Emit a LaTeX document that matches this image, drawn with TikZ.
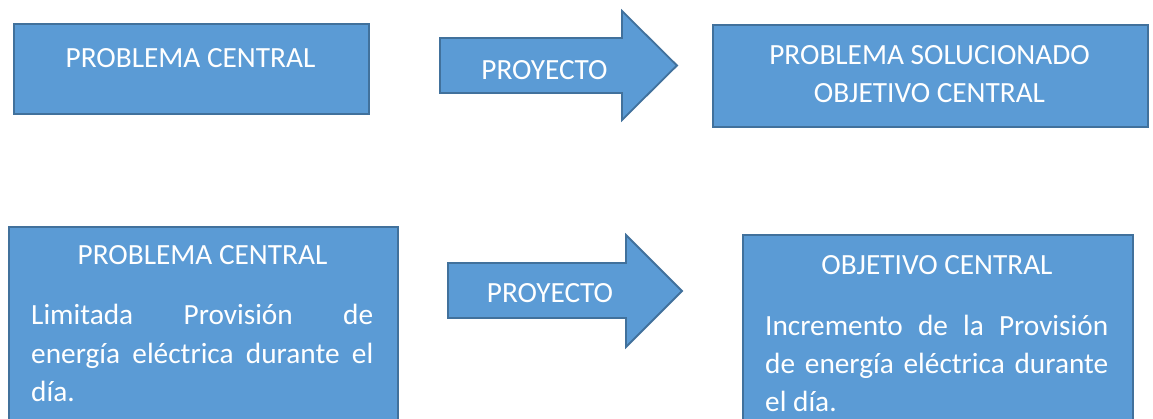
\documentclass[tikz,border=0pt]{standalone}
\usepackage{fontspec}
\setmainfont{Carlito}
\definecolor{boxfill}{HTML}{5B9BD5}
\definecolor{boxline}{HTML}{41719C}
\begin{document}
\begin{tikzpicture}[x=1pt,y=-1pt,
  box/.style={draw=boxline, fill=boxfill, line width=1.8pt, inner sep=0pt, anchor=north west},
  lbl/.style={text=white, font=\fontsize{29.3}{38}\selectfont, inner sep=0pt, anchor=base},
  lblw/.style={lbl, anchor=base west}]
\useasboundingbox (0,0) rectangle (1153,419);
\clip (0,0) rectangle (1153,419);
% top row
\node[box, minimum width=355pt, minimum height=90pt] (pc1) at (13,23) {};
\draw[box] (440,38) -- (622,38) -- (622,11) -- (677,65.5) -- (622,120) -- (622,93) -- (440,93) -- cycle;
\coordinate (ar1) at (544.5,80);
\node[box, minimum width=435pt, minimum height=102pt] (ps1) at (712,24) {};
\node[lbl] (t1) at (190.5,68) {PROBLEMA CENTRAL};
\node[lbl] (t2) at (ar1) {PROYECTO};
\node[lbl] (t3) at (929.5,65) {PROBLEMA SOLUCIONADO};
\node[lbl] (t4) at (929.5,103) {OBJETIVO CENTRAL};
% bottom row
\node[box, minimum width=389pt, minimum height=214pt] (pc2) at (8,226) {};
\draw[box] (448,263) -- (626,263) -- (626,235) -- (682,291) -- (626,347) -- (626,318) -- (448,318) -- cycle;
\coordinate (ar2) at (550,303);
\node[box, minimum width=390pt, minimum height=206pt] (oc2) at (742,234) {};
\node[lbl] (b1) at (202.5,265) {PROBLEMA CENTRAL};
\node[lblw] (b2) at (31,325) {\makebox[342pt][s]{Limitada Provisión de}};
\node[lblw] (b3) at (31,363) {\makebox[342pt][s]{energía eléctrica durante el}};
\node[lblw] (b4) at (31,401) {día.};
\node[lbl] (p2) at (ar2) {PROYECTO};
\node[lbl] (c1) at (937,275) {OBJETIVO CENTRAL};
\node[lblw] (c2) at (765,335) {\makebox[343pt][s]{Incremento de la Provisión}};
\node[lblw] (c3) at (765,373) {\makebox[343pt][s]{de energía eléctrica durante}};
\node[lblw] (c4) at (765,411) {el día.};
\end{tikzpicture}
\end{document}
